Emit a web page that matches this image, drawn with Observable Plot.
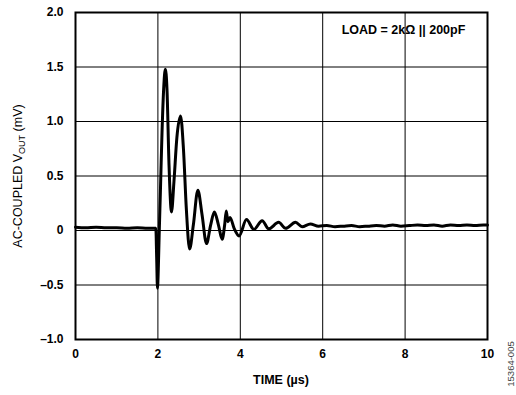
<!DOCTYPE html>
<html>
<head>
<meta charset="utf-8">
<script src="https://cdn.jsdelivr.net/npm/d3@7"></script>
<script src="https://cdn.jsdelivr.net/npm/@observablehq/plot@0.6"></script>
<style>
  html, body { margin: 0; padding: 0; background: #fff; }
  svg { font-family: "Liberation Sans", Arial, sans-serif; }
</style>
</head>
<body>
<div id="chart"></div>
<script>
// Time (µs) and AC-coupled output voltage (mV)
const time = [
  0, 0.25, 0.5, 0.75, 1.0, 1.25, 1.5, 1.75, 1.95,
  1.97, 1.99, 2.01, 2.03, 2.06, 2.1, 2.14, 2.18, 2.22, 2.27, 2.33,
  2.39, 2.46, 2.55, 2.62, 2.69, 2.77, 2.86, 2.97, 3.07, 3.18,
  3.28, 3.37, 3.47, 3.56, 3.62, 3.66, 3.70, 3.75, 3.85, 3.97,
  4.15, 4.33, 4.53, 4.69, 4.93, 5.1, 5.34, 5.5, 5.7,
  5.9, 6.1, 6.3, 6.5, 6.7, 6.9, 7.1, 7.3, 7.5, 7.7, 7.9,
  8.1, 8.3, 8.5, 8.7, 8.9, 9.1, 9.3, 9.5, 9.7, 9.9, 10
];
const vout = [
  0.03, 0.025, 0.03, 0.025, 0.025, 0.02, 0.025, 0.02, 0.02,
  -0.25, -0.53, -0.35, -0.05, 0.35, 0.9, 1.3, 1.48, 1.3, 0.6, 0.17,
  0.45, 0.85, 1.05, 0.75, 0.2, -0.17, 0.05, 0.37, 0.15, -0.12,
  0.05, 0.17, 0.05, -0.08, 0.05, 0.18, 0.08, 0.12, 0.02, -0.05,
  0.10, 0.01, 0.09, 0.015, 0.075, 0.02, 0.075, 0.035, 0.06,
  0.04, 0.045, 0.035, 0.04, 0.045, 0.035, 0.04, 0.045, 0.04, 0.05, 0.04,
  0.045, 0.05, 0.045, 0.05, 0.04, 0.05, 0.045, 0.05, 0.045, 0.05, 0.05
];
const xTicks = [0, 2, 4, 6, 8, 10];
const yTicks = [2.0, 1.5, 1.0, 0.5, 0, -0.5, -1.0];
const loadLabel = "LOAD = 2kΩ || 200pF";
const xLabel = "TIME (µs)";
const figureId = "15364-005";

const data = time.map((t, i) => ({t, v: vout[i]}));
const fmtY = d => d === 0 ? "0" : (d < 0 ? "–" : "") + d3.format(".1f")(Math.abs(d));

const plot = Plot.plot({
  width: 516,
  height: 395,
  marginLeft: 75,
  marginRight: 29,
  marginTop: 12,
  marginBottom: 56,
  style: {fontFamily: "Liberation Sans, Arial, sans-serif", fontSize: "12px", color: "#000", background: "#fff"},
  x: {domain: [0, 10], ticks: xTicks, tickSize: 0, tickPadding: 10, label: null, tickFormat: d => String(d)},
  y: {domain: [-1, 2], ticks: yTicks, tickSize: 0, tickPadding: 12, label: null, tickFormat: fmtY},
  marks: [
    Plot.gridX(xTicks, {stroke: "#000", strokeOpacity: 1, strokeWidth: 1}),
    Plot.gridY(yTicks, {stroke: "#000", strokeOpacity: 1, strokeWidth: 1}),
    Plot.frame({stroke: "#000", strokeWidth: 2}),
    Plot.text([loadLabel], {frameAnchor: "top", dx: 122, dy: 13, text: d => d, fontWeight: "bold", fontSize: 12.5, fill: "#000"}),
    Plot.line(data, {x: "t", y: "v", stroke: "#000", strokeWidth: 3, curve: "monotone-x"}),
    Plot.axisX({ticks: xTicks, tickSize: 0, tickPadding: 10, fontWeight: "bold", fontSize: 12, tickFormat: d => String(d), label: null}),
    Plot.axisY({ticks: yTicks, tickSize: 0, tickPadding: 12, fontWeight: "bold", fontSize: 12, tickFormat: fmtY, label: null})
  ]
});

const svg = d3.select(plot);
svg.append("text")
  .attr("x", 75 + 412 / 2).attr("y", 384)
  .attr("text-anchor", "middle")
  .attr("font-weight", "bold").attr("font-size", 12.5).attr("fill", "#000")
  .text(xLabel);

const yl = svg.append("text")
  .attr("transform", "translate(22,176) rotate(-90)")
  .attr("text-anchor", "middle")
  .attr("font-size", 12.5).attr("fill", "#000");
yl.append("tspan").text("AC-COUPLED V");
yl.append("tspan").attr("font-size", 9).attr("dy", 3).text("OUT");
yl.append("tspan").attr("dy", -3).text(" (mV)");

svg.append("text")
  .attr("transform", "translate(514,364) rotate(-90)")
  .attr("text-anchor", "middle")
  .attr("font-size", 9.5).attr("fill", "#444")
  .text(figureId);

document.getElementById("chart").appendChild(plot);
</script>
</body>
</html>
